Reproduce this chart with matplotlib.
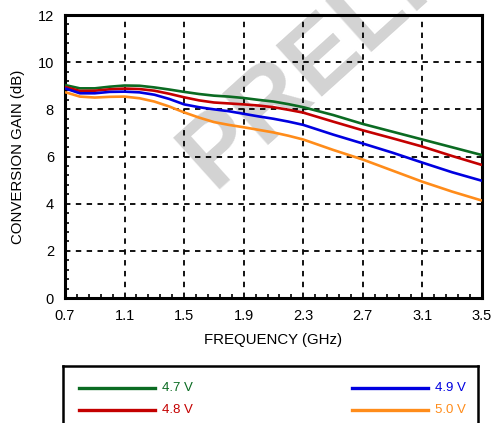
import matplotlib
matplotlib.use("Agg")
import matplotlib.pyplot as plt
from matplotlib.ticker import AutoMinorLocator
from matplotlib.lines import Line2D

plt.rcParams['font.family'] = ['Liberation Sans', 'DejaVu Sans']

freq = [0.7, 0.8, 0.9, 1.0, 1.1, 1.2, 1.3, 1.4, 1.5, 1.6, 1.7, 1.8, 1.9, 2.0, 2.1, 2.2, 2.3, 2.5, 2.7, 2.9, 3.1, 3.3, 3.5]
gain_47 = [9.03, 8.89, 8.89, 8.96, 9.01, 9.00, 8.93, 8.84, 8.74, 8.65, 8.58, 8.54, 8.48, 8.40, 8.33, 8.22, 8.09, 7.76, 7.38, 7.05, 6.72, 6.39, 6.06]
gain_48 = [8.95, 8.78, 8.79, 8.85, 8.88, 8.86, 8.79, 8.66, 8.51, 8.38, 8.29, 8.25, 8.21, 8.16, 8.09, 7.98, 7.86, 7.48, 7.11, 6.77, 6.42, 6.02, 5.64]
gain_49 = [8.89, 8.68, 8.68, 8.74, 8.75, 8.72, 8.62, 8.44, 8.21, 8.09, 8.00, 7.92, 7.81, 7.70, 7.60, 7.48, 7.34, 6.93, 6.55, 6.16, 5.74, 5.33, 4.97]
gain_50 = [8.73, 8.54, 8.50, 8.53, 8.54, 8.47, 8.33, 8.12, 7.87, 7.65, 7.46, 7.34, 7.24, 7.13, 7.02, 6.88, 6.72, 6.28, 5.87, 5.40, 4.93, 4.51, 4.13]
labels = ["4.7 V", "4.8 V", "4.9 V", "5.0 V"]
colors = ["#0b6b22", "#c40000", "#0000e0", "#ff8c1a"]
xticks = [0.7, 1.1, 1.5, 1.9, 2.3, 2.7, 3.1, 3.5]
yticks = [0, 2, 4, 6, 8, 10, 12]

W, H = 493, 423
fig = plt.figure(figsize=(W / 100, H / 100), dpi=100)
ax = fig.add_axes([65 / W, 1 - 298 / H, (482 - 65) / W, (298 - 15) / H])
ax.set_zorder(1)
ax.set_facecolor('none')

# watermark
fig.text(213 / W, 1 - 190 / H, "PRELIMINARY", rotation=42, rotation_mode='anchor',
         ha='left', va='baseline', fontsize=72, fontweight='bold', color='#d3d3d3', zorder=0)

series = [gain_47, gain_48, gain_49, gain_50]
for vals, c, lab in zip(series, colors, labels):
    ax.plot(freq, vals, color=c, lw=1.9, label=lab, zorder=3,
            solid_capstyle='butt', solid_joinstyle='round')

ax.set_xlim(0.7, 3.5)
ax.set_ylim(0, 12)
ax.set_xticks(xticks)
ax.set_xticklabels([f"{v:.1f}" for v in xticks])
ax.set_yticks(yticks)
ax.xaxis.set_minor_locator(AutoMinorLocator(5))
ax.yaxis.set_minor_locator(AutoMinorLocator(5))
ax.tick_params(which='both', direction='in', top=False, right=False, labelsize=10.5, colors='black')
ax.tick_params(which='major', length=0, pad=8)
ax.tick_params(which='minor', length=3, width=1.2)
ax.grid(True, which='major', color='black', linestyle=(0, (3, 3)), linewidth=1.3, zorder=1)
for s in ax.spines.values():
    s.set_linewidth(2.2)
ax.set_xlabel("FREQUENCY (GHz)", fontsize=10.8, labelpad=7)
ax.set_ylabel("CONVERSION GAIN (dB)", fontsize=10.8, labelpad=9)

# legend box
lax = fig.add_axes([63 / W, -0.05, (478 - 63) / W, (423 - 366) / H + 0.05])
lax.set_xlim(63, 478)
lax.set_ylim(423 + 0.05 * H, 366)
lax.set_xticks([])
lax.set_yticks([])
for s in lax.spines.values():
    s.set_linewidth(1.8)
pos = [(79, 387.5), (79, 409.5), (352, 387.5), (352, 409.5)]
for (x0, y0), c, lab in zip(pos, colors, labels):
    lax.add_line(Line2D([x0, x0 + 76], [y0, y0], color=c, lw=2.4))
    lax.text(x0 + 83, y0, lab, color=c, fontsize=9.5, va='center', ha='left')

fig.savefig("out.png", dpi=100)
